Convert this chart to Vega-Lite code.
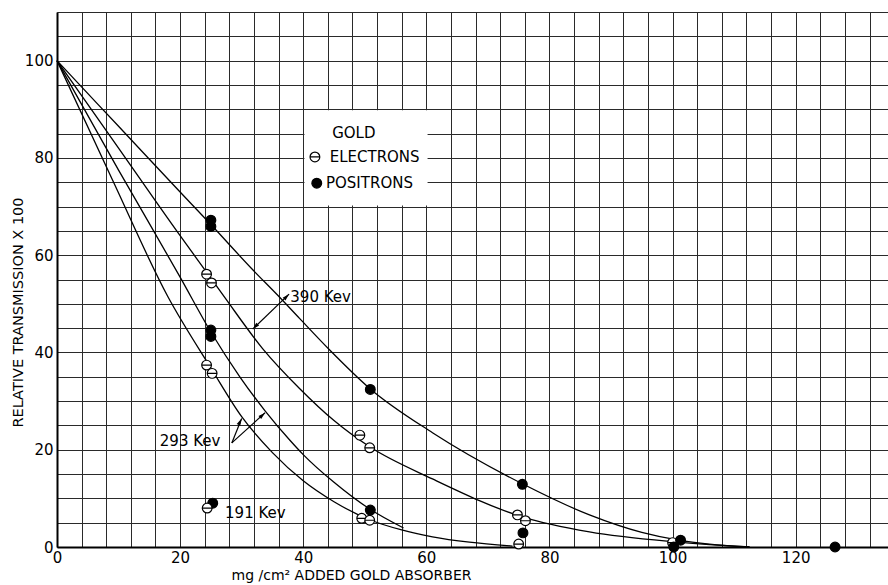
{
  "$schema": "https://vega.github.io/schema/vega-lite/v6.json",
  "width": 831,
  "height": 535,
  "autosize": "none",
  "padding": {"left": 57, "top": 12, "right": 0, "bottom": 38},
  "background": "white",
  "config": {
    "view": {"stroke": null},
    "font": "DejaVu Sans",
    "axis": {
      "grid": true,
      "zindex": 0,
      "gridColor": "#2a2a2a",
      "gridWidth": 1,
      "gridOpacity": 1,
      "domainColor": "black",
      "domainWidth": 2,
      "ticks": false,
      "tickSize": 0,
      "labelColor": "black",
      "labelFont": "DejaVu Sans",
      "labelFontSize": 15,
      "titleColor": "black",
      "titleFont": "DejaVu Sans",
      "titleFontSize": 14,
      "titleFontWeight": "normal"
    }
  },
  "datasets": {
    "points": [
      {"particle": "ELECTRONS", "x": 24.3, "y": 56.1},
      {"particle": "ELECTRONS", "x": 25.1, "y": 54.3},
      {"particle": "ELECTRONS", "x": 24.3, "y": 37.4},
      {"particle": "ELECTRONS", "x": 25.2, "y": 35.7},
      {"particle": "ELECTRONS", "x": 49.2, "y": 23.0},
      {"particle": "ELECTRONS", "x": 50.8, "y": 20.4},
      {"particle": "ELECTRONS", "x": 49.5, "y": 5.9},
      {"particle": "ELECTRONS", "x": 50.8, "y": 5.5},
      {"particle": "ELECTRONS", "x": 74.8, "y": 6.6},
      {"particle": "ELECTRONS", "x": 76.1, "y": 5.4},
      {"particle": "ELECTRONS", "x": 75.0, "y": 0.6},
      {"particle": "ELECTRONS", "x": 100.0, "y": 0.9},
      {"particle": "POSITRONS", "x": 25.0, "y": 67.2},
      {"particle": "POSITRONS", "x": 25.0, "y": 65.9},
      {"particle": "POSITRONS", "x": 25.0, "y": 44.6},
      {"particle": "POSITRONS", "x": 25.0, "y": 43.3},
      {"particle": "POSITRONS", "x": 25.3, "y": 9.0},
      {"particle": "POSITRONS", "x": 50.9, "y": 32.4},
      {"particle": "POSITRONS", "x": 50.9, "y": 7.6},
      {"particle": "POSITRONS", "x": 75.6, "y": 12.9},
      {"particle": "POSITRONS", "x": 75.7, "y": 2.9},
      {"particle": "POSITRONS", "x": 101.3, "y": 1.4},
      {"particle": "POSITRONS", "x": 100.2, "y": 0.0},
      {"particle": "POSITRONS", "x": 126.4, "y": 0.0},
      {"particle": "ELECTRONS", "x": 24.4, "y": 8.0}
    ],
    "curves": [
      {"curve": "390 Kev positrons", "x": 0, "y": 100},
      {"curve": "390 Kev positrons", "x": 10, "y": 86.5},
      {"curve": "390 Kev positrons", "x": 20, "y": 73},
      {"curve": "390 Kev positrons", "x": 25, "y": 66.3},
      {"curve": "390 Kev positrons", "x": 31.8, "y": 57},
      {"curve": "390 Kev positrons", "x": 35.9, "y": 51.7},
      {"curve": "390 Kev positrons", "x": 39.4, "y": 47},
      {"curve": "390 Kev positrons", "x": 44.3, "y": 40.5},
      {"curve": "390 Kev positrons", "x": 50.8, "y": 32.6},
      {"curve": "390 Kev positrons", "x": 61, "y": 23.5},
      {"curve": "390 Kev positrons", "x": 75.6, "y": 13},
      {"curve": "390 Kev positrons", "x": 86.5, "y": 6.6},
      {"curve": "390 Kev positrons", "x": 95, "y": 3},
      {"curve": "390 Kev positrons", "x": 101, "y": 1.4},
      {"curve": "390 Kev positrons", "x": 106, "y": 0.6},
      {"curve": "390 Kev positrons", "x": 112.5, "y": 0},
      {"curve": "390 Kev electrons", "x": 0, "y": 100},
      {"curve": "390 Kev electrons", "x": 10, "y": 82},
      {"curve": "390 Kev electrons", "x": 20, "y": 64},
      {"curve": "390 Kev electrons", "x": 25, "y": 55.3},
      {"curve": "390 Kev electrons", "x": 27.6, "y": 50.7},
      {"curve": "390 Kev electrons", "x": 33.4, "y": 40.8},
      {"curve": "390 Kev electrons", "x": 39.4, "y": 32.6},
      {"curve": "390 Kev electrons", "x": 45, "y": 26},
      {"curve": "390 Kev electrons", "x": 50.8, "y": 20.6},
      {"curve": "390 Kev electrons", "x": 61, "y": 14},
      {"curve": "390 Kev electrons", "x": 75.6, "y": 6.2},
      {"curve": "390 Kev electrons", "x": 86.5, "y": 3.1},
      {"curve": "390 Kev electrons", "x": 100, "y": 1.1},
      {"curve": "390 Kev electrons", "x": 106, "y": 0.5},
      {"curve": "390 Kev electrons", "x": 112.5, "y": 0},
      {"curve": "293 Kev positrons", "x": 0, "y": 100},
      {"curve": "293 Kev positrons", "x": 10, "y": 77.5},
      {"curve": "293 Kev positrons", "x": 20, "y": 55.5},
      {"curve": "293 Kev positrons", "x": 25, "y": 44.2},
      {"curve": "293 Kev positrons", "x": 29.7, "y": 35},
      {"curve": "293 Kev positrons", "x": 33.8, "y": 28},
      {"curve": "293 Kev positrons", "x": 37.8, "y": 22},
      {"curve": "293 Kev positrons", "x": 40, "y": 19},
      {"curve": "293 Kev positrons", "x": 45, "y": 13.3},
      {"curve": "293 Kev positrons", "x": 50.8, "y": 7.8},
      {"curve": "293 Kev positrons", "x": 56.3, "y": 3.9},
      {"curve": "293 Kev electrons", "x": 0, "y": 100},
      {"curve": "293 Kev electrons", "x": 9, "y": 75.5},
      {"curve": "293 Kev electrons", "x": 18, "y": 51.5},
      {"curve": "293 Kev electrons", "x": 25, "y": 36.8},
      {"curve": "293 Kev electrons", "x": 30, "y": 26.8},
      {"curve": "293 Kev electrons", "x": 35, "y": 19.4},
      {"curve": "293 Kev electrons", "x": 40, "y": 13.6},
      {"curve": "293 Kev electrons", "x": 45, "y": 9.3},
      {"curve": "293 Kev electrons", "x": 50.8, "y": 5.6},
      {"curve": "293 Kev electrons", "x": 56, "y": 3.5},
      {"curve": "293 Kev electrons", "x": 61, "y": 2.1},
      {"curve": "293 Kev electrons", "x": 67, "y": 1.0},
      {"curve": "293 Kev electrons", "x": 74, "y": 0.2}
    ],
    "labels": [
      {"text": "390 Kev", "x": 37.9, "y": 51.4},
      {"text": "293 Kev", "x": 16.7, "y": 21.8},
      {"text": "191 Kev", "x": 27.3, "y": 7.0},
      {"text": "GOLD", "x": 44.7, "y": 85.1},
      {"text": "ELECTRONS", "x": 44.3, "y": 80.2},
      {"text": "POSITRONS", "x": 43.7, "y": 74.8}
    ],
    "legendkey": [
      {"particle": "ELECTRONS", "x": 41.9, "y": 80.2},
      {"particle": "POSITRONS", "x": 42.2, "y": 74.8}
    ],
    "arrows": [
      {"arrow": "390", "x": 31.8, "y": 44.8, "x2": 37.7, "y2": 52.0},
      {"arrow": "293a", "x": 28.4, "y": 21.4, "x2": 30.0, "y2": 26.4},
      {"arrow": "293b", "x": 28.4, "y": 21.4, "x2": 33.8, "y2": 27.6}
    ],
    "heads": [
      {"head": "390 low", "x": 31.8, "y": 44.8},
      {"head": "390 high", "x": 37.7, "y": 52.0},
      {"head": "293a", "x": 30.0, "y": 26.4},
      {"head": "293b", "x": 33.8, "y": 27.6}
    ],
    "legendbox": [
      {"x": 40.2, "x2": 60.2, "y": 70.2, "y2": 89.8}
    ]
  },
  "encoding": {
    "x": {
      "field": "x",
      "type": "quantitative",
      "scale": {"domain": [0, 135], "nice": false, "zero": false},
      "axis": {
        "title": "mg /cm² ADDED GOLD ABSORBER",
        "values": [0, 4, 8, 12, 16, 20, 24, 28, 32, 36, 40, 44, 48, 52, 56, 60, 64, 68, 72, 76, 80, 84, 88, 92, 96, 100, 104, 108, 112, 116, 120, 124, 128, 132],
        "labelExpr": "datum.value % 20 === 0 ? datum.label : ''",
        "labelPadding": 3,
        "labelFlush": false,
        "labelOverlap": false,
        "titleFontSize": 14,
        "titleX": 294,
        "titleY": 28,
        "titleAlign": "center",
        "titleBaseline": "middle"
      }
    },
    "y": {
      "field": "y",
      "type": "quantitative",
      "scale": {"domain": [0, 110], "nice": false, "zero": false},
      "axis": {
        "title": "RELATIVE TRANSMISSION X 100",
        "values": [0, 5, 10, 15, 20, 25, 30, 35, 40, 45, 50, 55, 60, 65, 70, 75, 80, 85, 90, 95, 100, 105, 110],
        "labelExpr": "datum.value % 20 === 0 ? datum.label : ''",
        "labelPadding": 4,
        "labelFlush": false,
        "labelOverlap": false,
        "titleFontSize": 14.5,
        "titleX": -39,
        "titleY": 300,
        "titleAngle": -90,
        "titleAlign": "center",
        "titleBaseline": "middle"
      }
    }
  },
  "layer": [
    {
      "data": {"name": "legendbox"},
      "mark": {"type": "rect", "fill": "white", "stroke": null, "opacity": 1},
      "encoding": {"x2": {"field": "x2"}, "y2": {"field": "y2"}}
    },
    {
      "data": {"name": "curves"},
      "mark": {"type": "line", "interpolate": "monotone", "color": "black", "strokeWidth": 1.3},
      "encoding": {"detail": {"field": "curve", "type": "nominal"}}
    },
    {
      "data": {"name": "arrows"},
      "mark": {"type": "rule", "color": "black", "strokeWidth": 1.2},
      "encoding": {"x2": {"field": "x2"}, "y2": {"field": "y2"}}
    },
    {
      "data": {"name": "heads"},
      "transform": [{"filter": "datum.head === '390 low'"}],
      "mark": {"type": "point", "shape": "M0,0L1,3.5L-1,3.5Z", "filled": true, "color": "black", "opacity": 1, "size": 16, "angle": 225}
    },
    {
      "data": {"name": "heads"},
      "transform": [{"filter": "datum.head === '390 high'"}],
      "mark": {"type": "point", "shape": "M0,0L1,3.5L-1,3.5Z", "filled": true, "color": "black", "opacity": 1, "size": 16, "angle": 45}
    },
    {
      "data": {"name": "heads"},
      "transform": [{"filter": "datum.head === '293a'"}],
      "mark": {"type": "point", "shape": "M0,0L1,3.5L-1,3.5Z", "filled": true, "color": "black", "opacity": 1, "size": 16, "angle": 27}
    },
    {
      "data": {"name": "heads"},
      "transform": [{"filter": "datum.head === '293b'"}],
      "mark": {"type": "point", "shape": "M0,0L1,3.5L-1,3.5Z", "filled": true, "color": "black", "opacity": 1, "size": 16, "angle": 48}
    },
    {
      "data": {"name": "labels"},
      "mark": {"type": "text", "align": "left", "baseline": "middle", "fontSize": 15, "color": "black", "font": "DejaVu Sans"},
      "encoding": {"text": {"field": "text", "type": "nominal"}}
    },
    {
      "data": {"name": "legendkey"},
      "mark": {"type": "point", "filled": true, "stroke": "black", "strokeWidth": 1.2, "size": 95, "opacity": 1},
      "encoding": {
        "fill": {"field": "particle", "type": "nominal", "legend": null},
        "shape": {"field": "particle", "type": "nominal", "legend": null}
      }
    },
    {
      "data": {"name": "points"},
      "mark": {"type": "point", "filled": true, "stroke": "black", "strokeWidth": 1.2, "size": 95, "opacity": 1},
      "encoding": {
        "fill": {
          "field": "particle",
          "type": "nominal",
          "scale": {"domain": ["ELECTRONS", "POSITRONS"], "range": ["white", "black"]},
          "legend": null
        },
        "shape": {
          "field": "particle",
          "type": "nominal",
          "scale": {"domain": ["ELECTRONS", "POSITRONS"], "range": ["M-1,0A1,1,0,1,1,1,0A1,1,0,1,1,-1,0ZM-1,0L1,0", "circle"]},
          "legend": null
        }
      }
    }
  ]
}
